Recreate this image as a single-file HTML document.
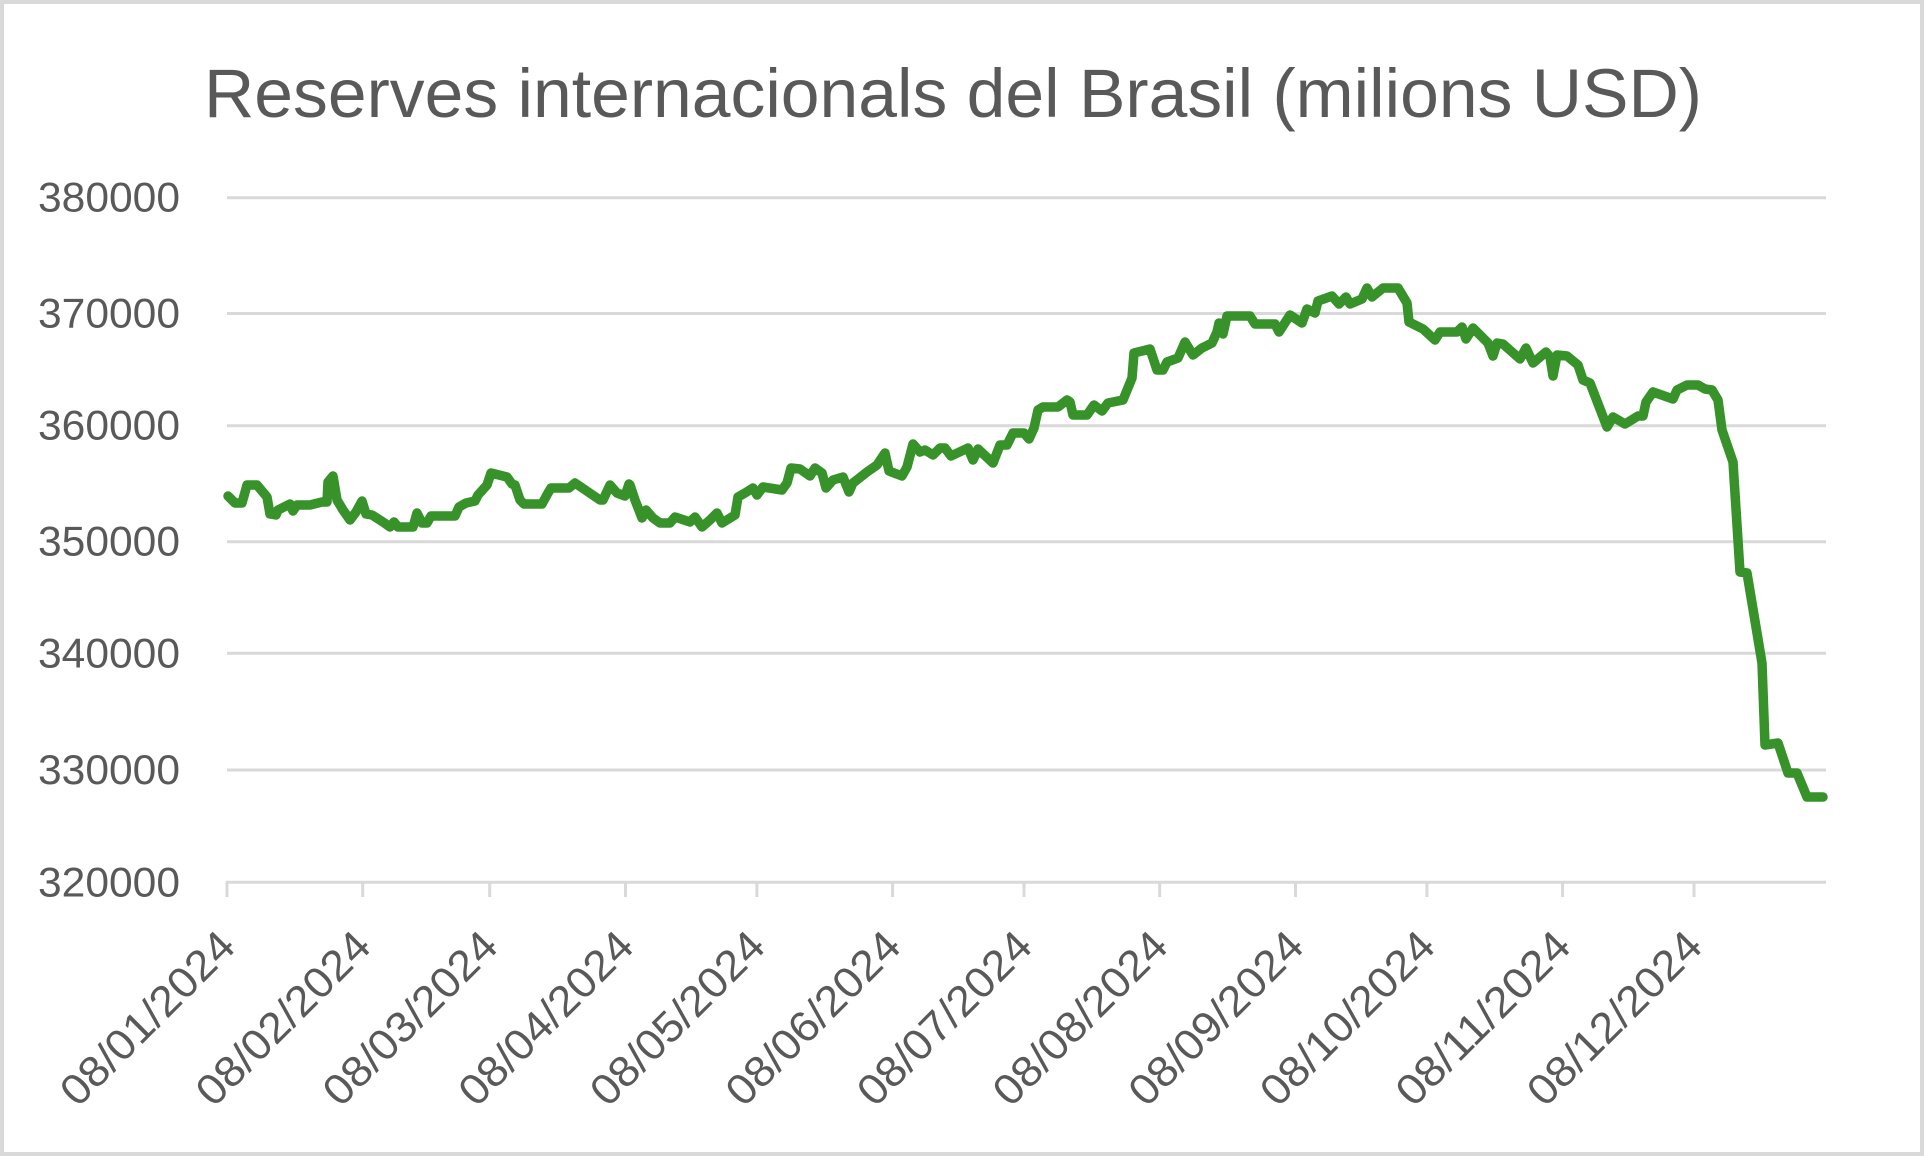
<!DOCTYPE html>
<html>
<head>
<meta charset="utf-8">
<style>
  html, body { margin: 0; padding: 0; background: #ffffff; }
  svg { display: block; }
  text { font-family: "Liberation Sans", Arial, sans-serif; fill: #595959; }
</style>
</head>
<body>
<svg width="1924" height="1156" viewBox="0 0 1924 1156" xmlns="http://www.w3.org/2000/svg">
  <rect x="0" y="0" width="1924" height="1156" fill="#ffffff"/>
  <rect x="2" y="2" width="1920" height="1152" fill="none" stroke="#d9d9d9" stroke-width="4"/>

  <!-- Title -->
  <text x="204" y="117" font-size="69" textLength="1498" lengthAdjust="spacingAndGlyphs">Reserves internacionals del Brasil (milions USD)</text>

  <!-- Gridlines -->
  <g stroke="#d9d9d9" stroke-width="3">
    <line x1="227" y1="197.7" x2="1826" y2="197.7"/>
    <line x1="227" y1="313.5" x2="1826" y2="313.5"/>
    <line x1="227" y1="425.7" x2="1826" y2="425.7"/>
    <line x1="227" y1="541.7" x2="1826" y2="541.7"/>
    <line x1="227" y1="653.3" x2="1826" y2="653.3"/>
    <line x1="227" y1="770" x2="1826" y2="770"/>
    <line x1="226" y1="882.3" x2="1826" y2="882.3"/>
  </g>
  <!-- Ticks -->
  <g stroke="#d9d9d9" stroke-width="3">
    <line x1="227" y1="882" x2="227" y2="897"/>
    <line x1="362.7" y1="882" x2="362.7" y2="897"/>
    <line x1="489.7" y1="882" x2="489.7" y2="897"/>
    <line x1="625.5" y1="882" x2="625.5" y2="897"/>
    <line x1="756.9" y1="882" x2="756.9" y2="897"/>
    <line x1="892.6" y1="882" x2="892.6" y2="897"/>
    <line x1="1024" y1="882" x2="1024" y2="897"/>
    <line x1="1159.7" y1="882" x2="1159.7" y2="897"/>
    <line x1="1295.5" y1="882" x2="1295.5" y2="897"/>
    <line x1="1426.9" y1="882" x2="1426.9" y2="897"/>
    <line x1="1562.6" y1="882" x2="1562.6" y2="897"/>
    <line x1="1694" y1="882" x2="1694" y2="897"/>
  </g>

  <!-- Y labels -->
  <g font-size="42">
    <text x="38" y="211.7" textLength="142" lengthAdjust="spacingAndGlyphs">380000</text>
    <text x="38" y="327.5" textLength="142" lengthAdjust="spacingAndGlyphs">370000</text>
    <text x="38" y="439.7" textLength="142" lengthAdjust="spacingAndGlyphs">360000</text>
    <text x="38" y="555.7" textLength="142" lengthAdjust="spacingAndGlyphs">350000</text>
    <text x="38" y="667.3" textLength="142" lengthAdjust="spacingAndGlyphs">340000</text>
    <text x="38" y="784" textLength="142" lengthAdjust="spacingAndGlyphs">330000</text>
    <text x="38" y="896.3" textLength="142" lengthAdjust="spacingAndGlyphs">320000</text>
  </g>

  <!-- X labels -->
  <g font-size="43">
    <g transform="translate(227,938) rotate(-45)"><text x="-226" y="15" textLength="226" lengthAdjust="spacingAndGlyphs">08/01/2024</text></g>
    <g transform="translate(362.7,938) rotate(-45)"><text x="-226" y="15" textLength="226" lengthAdjust="spacingAndGlyphs">08/02/2024</text></g>
    <g transform="translate(489.7,938) rotate(-45)"><text x="-226" y="15" textLength="226" lengthAdjust="spacingAndGlyphs">08/03/2024</text></g>
    <g transform="translate(625.5,938) rotate(-45)"><text x="-226" y="15" textLength="226" lengthAdjust="spacingAndGlyphs">08/04/2024</text></g>
    <g transform="translate(756.9,938) rotate(-45)"><text x="-226" y="15" textLength="226" lengthAdjust="spacingAndGlyphs">08/05/2024</text></g>
    <g transform="translate(892.6,938) rotate(-45)"><text x="-226" y="15" textLength="226" lengthAdjust="spacingAndGlyphs">08/06/2024</text></g>
    <g transform="translate(1024,938) rotate(-45)"><text x="-226" y="15" textLength="226" lengthAdjust="spacingAndGlyphs">08/07/2024</text></g>
    <g transform="translate(1159.7,938) rotate(-45)"><text x="-226" y="15" textLength="226" lengthAdjust="spacingAndGlyphs">08/08/2024</text></g>
    <g transform="translate(1295.5,938) rotate(-45)"><text x="-226" y="15" textLength="226" lengthAdjust="spacingAndGlyphs">08/09/2024</text></g>
    <g transform="translate(1426.9,938) rotate(-45)"><text x="-226" y="15" textLength="226" lengthAdjust="spacingAndGlyphs">08/10/2024</text></g>
    <g transform="translate(1562.6,938) rotate(-45)"><text x="-226" y="15" textLength="226" lengthAdjust="spacingAndGlyphs">08/11/2024</text></g>
    <g transform="translate(1694,938) rotate(-45)"><text x="-226" y="15" textLength="226" lengthAdjust="spacingAndGlyphs">08/12/2024</text></g>
  </g>

  <!-- Series -->
  <polyline fill="none" stroke="#37922a" stroke-width="9.5" stroke-linejoin="round" stroke-linecap="round"
    points="228,496 235,503 242,503 247,485 257,485 267,497 270,514 276,515 278,510 290,504 293,511 297,505 310,505 322,502 327,502 328,482 333,476 337,500 343,510 350,520 356,512 362,501 366,514 372,515 383,522 390,527 394,522 398,527 413,527 417,513 422,523 427,523 431,516 455,516 459,507 466,503 475,501 478,495 487,485 491,473 507,477 512,484 515,485 520,500 524,504 542,504 548,493 551,488 569,488 575,483 600,500 603,500 610,485 617,493 625,496 629,484 630,485 635,500 642,518 646,510 653,518 660,523 670,523 675,517 690,522 695,517 702,527 710,520 717,513 722,523 735,515 738,497 745,493 753,488 757,495 763,487 782,490 787,483 791,468 800,469 810,476 815,468 822,473 826,488 833,480 843,477 849,492 853,483 867,472 877,465 885,453 889,471 902,476 907,467 913,444 920,452 925,450 933,455 940,448 945,448 951,456 968,448 973,460 978,449 993,463 1000,445 1007,445 1013,433 1024,433 1029,439 1034,428 1038,410 1043,407 1058,407 1067,400 1070,402 1073,415 1087,415 1094,405 1102,411 1108,403 1123,400 1132,378 1134,353 1150,349 1157,370 1163,370 1167,362 1178,358 1185,342 1193,355 1202,348 1212,343 1217,332 1219,323 1223,334 1227,316 1250,316 1255,324 1275,324 1279,332 1290,315 1302,323 1307,309 1315,313 1318,301 1332,296 1339,304 1346,297 1350,304 1362,299 1367,288 1372,297 1383,288 1398,288 1407,303 1409,322 1423,329 1435,340 1440,332 1443,332 1457,332 1462,327 1466,339 1473,328 1488,343 1493,356 1497,343 1503,344 1520,359 1526,348 1533,363 1546,352 1550,357 1553,376 1557,355 1567,356 1578,365 1583,380 1590,383 1607,427 1613,417 1625,424 1638,416 1643,416 1646,402 1653,392 1673,399 1677,390 1687,385 1698,385 1705,389 1712,390 1718,400 1722,430 1733,462 1740,572 1747,573 1762,663 1765,745 1778,743 1788,773 1797,773 1807,797 1823,797"/>
</svg>
</body>
</html>
